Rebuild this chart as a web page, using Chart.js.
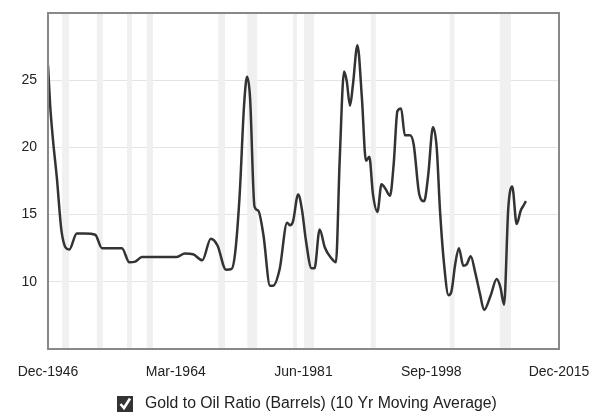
<!DOCTYPE html>
<html>
<head>
<meta charset="utf-8">
<script src="https://cdn.jsdelivr.net/npm/chart.js@4.4.1/dist/chart.umd.min.js"></script>
<style>
  html, body { margin: 0; padding: 0; background: #fff; }
  #wrap { width: 597px; height: 412px; }
</style>
</head>
<body>
<div id="wrap"><canvas id="ratioChart"></canvas></div>
<script>
// Gold to oil ratio, 10 yr moving average (decimal years)
const years = [
  1946.92, 1947.2, 1947.6, 1948.1, 1948.76, 1949.8, 1950.8, 1951.9, 1953.3, 1954.2,
  1956.9, 1957.9, 1958.7, 1959.6, 1964.3, 1965.4, 1966.5, 1967.75, 1968.9, 1969.8,
  1970.95, 1971.7, 1972.2, 1972.8, 1973.4, 1973.8, 1974.2, 1974.8, 1975.3, 1976.0,
  1976.9, 1977.3, 1978.2, 1979.2, 1979.6, 1980.0, 1980.7, 1981.2, 1981.75, 1982.5,
  1982.9, 1983.6, 1984.3, 1985.1, 1985.8, 1986.3, 1986.9, 1987.25, 1987.7, 1988.1,
  1988.7, 1989.3, 1989.85, 1990.3, 1990.8, 1991.4, 1991.95, 1992.5, 1993.1, 1993.6,
  1994.1, 1994.6, 1995.1, 1995.8, 1996.3, 1997.05, 1997.7, 1998.25, 1998.9, 1999.4,
  1999.85, 2000.4, 2001.0, 2001.4, 2001.9, 2002.4, 2003.0, 2003.45, 2004.0, 2004.6,
  2005.25, 2005.8, 2006.7, 2007.5, 2008.0, 2008.5, 2009.07, 2009.6, 2010.2, 2010.75,
  2011.1, 2011.45
];
const ratio = [
  26.1, 23.2, 20.5, 17.8, 13.7, 12.4, 13.6, 13.6, 13.5, 12.5,
  12.5, 11.45, 11.5, 11.85, 11.85, 12.1, 12.05, 11.6, 13.2, 12.7,
  10.9, 10.95, 12.2, 16.5, 23.2, 25.25, 23.7, 15.6, 15.3, 13.5,
  9.7, 9.7, 10.95, 14.4, 14.2, 14.5, 16.5, 15.4, 13.05, 11.0,
  11.0, 13.9, 12.55, 11.8, 11.45, 19.0, 25.65, 24.95, 23.1, 24.7,
  27.6, 23.7, 19.0, 19.3, 16.5, 15.2, 17.25, 16.9, 16.4, 18.8,
  22.7, 22.9, 20.9, 20.9, 20.2, 16.5, 16.0, 17.9, 21.5, 20.0,
  15.3, 11.3, 9.0, 9.3, 11.3, 12.5, 11.2, 11.3, 11.9, 10.7,
  9.1, 7.9, 9.0, 10.2, 9.6, 8.3, 15.5, 17.1, 14.3, 15.3,
  15.65, 16.0
];

// x axis ticks
const tickYears = [1946.917, 1964.167, 1981.417, 1998.667, 2015.917];
const tickLabels = ["Dec-1946", "Mar-1964", "Jun-1981", "Sep-1998", "Dec-2015"];

// recessions (shaded)
const recessionStarts = [1948.83, 1953.5, 1957.58, 1960.25, 1969.92, 1973.83, 1980.0, 1981.5, 1990.5, 2001.17, 2007.92];
const recessionEnds   = [1949.75, 1954.33, 1958.25, 1961.08, 1970.83, 1975.17, 1980.5, 1982.83, 1991.17, 2001.83, 2009.42];

const FONT = "'Liberation Sans', Arial, sans-serif";

// checkbox icon for the legend
const box = document.createElement("canvas");
box.width = 16; box.height = 16;
const bctx = box.getContext("2d");
bctx.fillStyle = "#333";
bctx.fillRect(0, 0, 16, 16);
bctx.strokeStyle = "#fff";
bctx.lineWidth = 2.6;
bctx.beginPath();
bctx.moveTo(3.5, 8);
bctx.lineTo(7, 12);
bctx.lineTo(13, 2.5);
bctx.stroke();

const bands = {
  id: "bands",
  beforeDatasetsDraw(chart) {
    const { ctx, chartArea, scales } = chart;
    ctx.save();
    ctx.fillStyle = "#f0f0f0";
    recessionStarts.forEach((s, i) => {
      const x1 = scales.x.getPixelForValue(s);
      const x2 = scales.x.getPixelForValue(recessionEnds[i]);
      ctx.fillRect(x1, chartArea.top, Math.max(x2 - x1, 4), chartArea.bottom - chartArea.top);
    });
    ctx.restore();
  },
  afterDraw(chart) {
    const { ctx, chartArea } = chart;
    ctx.save();
    ctx.strokeStyle = "#888";
    ctx.lineWidth = 2;
    ctx.strokeRect(chartArea.left, chartArea.top, chartArea.right - chartArea.left, chartArea.bottom - chartArea.top);

    // legend: checkbox + series name
    ctx.drawImage(box, 117, 396);
    ctx.fillStyle = "#222";
    ctx.font = "15.8px " + FONT;
    ctx.textBaseline = "middle";
    ctx.fillText(chart.data.datasets[0].label, 145, 404);
    ctx.restore();
  }
};

new Chart(document.getElementById("ratioChart"), {
  type: "line",
  data: {
    datasets: [{
      label: "Gold to Oil Ratio (Barrels) (10 Yr Moving Average)",
      data: years.map((y, i) => ({ x: y, y: ratio[i] })),
      borderColor: "#333",
      borderWidth: 2.5,
      pointRadius: 0,
      cubicInterpolationMode: "monotone",
      fill: false
    }]
  },
  options: {
    responsive: true,
    maintainAspectRatio: false,
    animation: false,
    layout: { padding: { top: 13, right: 38, left: 0, bottom: 33 } },
    plugins: {
      tooltip: { enabled: false },
      legend: { display: false }
    },
    scales: {
      x: {
        type: "linear",
        min: 1946.917,
        max: 2015.917,
        afterBuildTicks: s => { s.ticks = tickYears.map(v => ({ value: v })); },
        afterFit: s => { s.height = 30; s.paddingLeft = 0; s.paddingRight = 0; },
        grid: { display: false, drawTicks: false },
        border: { display: false },
        ticks: {
          padding: 15,
          maxRotation: 0,
          color: "#222",
          font: { family: FONT, size: 14 },
          callback: v => tickLabels[tickYears.indexOf(v)]
        }
      },
      y: {
        min: 5,
        max: 30,
        afterFit: s => { s.width = 48; s.paddingTop = 0; s.paddingBottom = 0; },
        grid: {
          drawTicks: false,
          color: c => (c.tick.value === 5 || c.tick.value === 30) ? "rgba(0,0,0,0)" : "#e4e4e4"
        },
        border: { display: false },
        ticks: {
          stepSize: 5,
          padding: 11,
          color: "#222",
          font: { family: FONT, size: 14 },
          callback: v => (v === 5 || v === 30) ? "" : v
        }
      }
    }
  },
  plugins: [bands]
});
</script>
</body>
</html>
